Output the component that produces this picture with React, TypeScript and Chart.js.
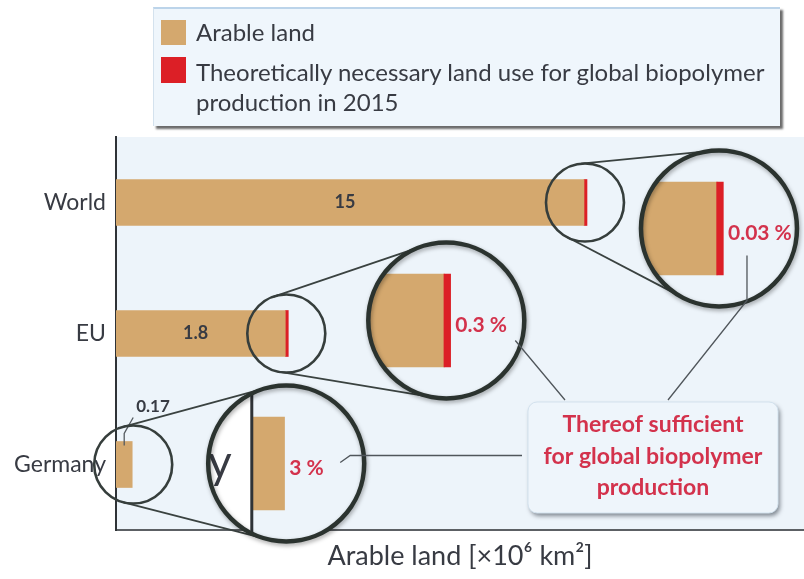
import React, { useEffect, useRef } from 'react';
import { Chart, LinearScale, registerables } from 'chart.js';

// ---- data -------------------------------------------------------------
const regions = ['World', 'EU', 'Germany'];
// arable land, million km²
const arableLand = [15, 1.8, 0.17];
const arableLabels = ['15', '1.8', '0.17'];
// land theoretically needed for global biopolymer production in 2015, million km²
const biopolymerLand: (number | null)[] = [0.0045, 0.0054, null];
const biopolymerShare = ['0.03 %', '0.3 %', '3 %'];
const seriesNames = [
  'Arable land',
  'Theoretically necessary land use for global biopolymer production in 2015',
];
const seriesColors = ['#d4a86e', '#dc1f26'];
const calloutLines = ['Thereof sufficient', 'for global biopolymer', 'production'];
const axisTitle = 'Arable land [×10⁶ km²]';

// ---- styling ----------------------------------------------------------
const FONT = 'Lato, "Open Sans", sans-serif';
const INK = '#383b43';
const RED_TEXT = '#d3324c';
const PLOT_BG = '#edf4fa';
const TICK_SIZE = 23;
const TICK_GAP = 10;

// ---- compressed value axis: keeps very small and very large areas readable
const SC = 0.75;
const SQ = 1.3;
const squash = (v: number) => Math.log1p(Math.pow(Math.max(v, 0) / SC, SQ));
const unsquash = (t: number) => SC * Math.pow(Math.expm1(Math.max(t, 0)), 1 / SQ);

class CompressedScale extends LinearScale {
  static id = 'compressed';
  getPixelForValue(value: any) {
    if (value === null || value === undefined || isNaN(value)) return NaN;
    const a = squash(this.min);
    const b = squash(this.max);
    return this.getPixelForDecimal((squash(value) - a) / (b - a));
  }
  getValueForPixel(pixel: number) {
    const a = squash(this.min);
    const b = squash(this.max);
    return unsquash(a + this.getDecimalForPixel(pixel) * (b - a));
  }
}

Chart.register(...registerables, CompressedScale);

// magnifier geometry
const MAG = 2;
const SMALL_R = 39;
const BIG_R = 78;
const LENS_SHIFT = [
  [134, 26],
  [160, -13],
  [153, -1],
];

function tangents(x1: number, y1: number, r1: number, x2: number, y2: number, r2: number) {
  const dx = x2 - x1;
  const dy = y2 - y1;
  const d = Math.hypot(dx, dy);
  const phi = Math.atan2(dy, dx);
  const alpha = Math.acos((r1 - r2) / d);
  return [phi - alpha, phi + alpha].map((t) => [
    [x1 + r1 * Math.cos(t), y1 + r1 * Math.sin(t)],
    [x2 + r2 * Math.cos(t), y2 + r2 * Math.sin(t)],
  ]);
}

// the plot as it appears under a lens (redrawn with the lens transform applied)
function drawScene(chart: any) {
  const { ctx, chartArea: a } = chart;
  ctx.fillStyle = PLOT_BG;
  ctx.fillRect(a.left, a.top, a.right - a.left, a.bottom - a.top);
  chart.data.datasets.forEach((_: any, d: number) => {
    chart.getDatasetMeta(d).data.forEach((el: any, i: number) => {
      if (d === 1 && biopolymerLand[i] == null) return;
      el.draw(ctx);
    });
  });
  ctx.strokeStyle = '#2f3337';
  ctx.lineWidth = 1.5;
  ctx.beginPath();
  ctx.moveTo(a.left, a.top);
  ctx.lineTo(a.left, a.bottom);
  ctx.stroke();
  const y = chart.scales.y;
  ctx.fillStyle = INK;
  ctx.font = `${TICK_SIZE}px ${FONT}`;
  ctx.textAlign = 'right';
  ctx.textBaseline = 'middle';
  regions.forEach((r, i) => ctx.fillText(r, y.right - TICK_GAP, y.getPixelForValue(i)));
}

const decorations = {
  id: 'lensDecorations',
  beforeDraw(chart: any) {
    const { ctx, chartArea: a } = chart;
    ctx.save();
    ctx.fillStyle = PLOT_BG;
    ctx.fillRect(a.left, a.top, a.right - a.left, a.bottom - a.top);
    ctx.restore();
  },
  afterDraw(chart: any) {
    const { ctx, chartArea: area } = chart;
    const brown = chart.getDatasetMeta(0).data;
    const red = chart.getDatasetMeta(1).data;

    const lenses = regions.map((_, i) => {
      const bar = brown[i];
      const tip = biopolymerLand[i] != null ? red[i].x : bar.x;
      const sx = bar.x + 1;
      const sy = bar.y;
      return { bar, tip, sx, sy, bx: sx + LENS_SHIFT[i][0], by: sy + LENS_SHIFT[i][1] };
    });

    ctx.save();
    // values on the bars
    ctx.fillStyle = INK;
    ctx.font = `bold 18px ${FONT}`;
    ctx.textBaseline = 'middle';
    lenses.forEach((l, i) => {
      const b = l.bar;
      if (b.x - area.left > 60) {
        ctx.textAlign = 'center';
        ctx.fillText(arableLabels[i], (area.left + b.x) / 2 - 5, b.y);
      } else {
        const top = b.y - b.height / 2;
        ctx.textAlign = 'left';
        ctx.font = `bold 17px ${FONT}`;
        ctx.fillText(arableLabels[i], b.x + 4, top - 35);
        ctx.strokeStyle = '#555b60';
        ctx.lineWidth = 1.3;
        ctx.beginPath();
        ctx.moveTo(b.x - 8, top + 4);
        ctx.lineTo(b.x - 8, top - 8);
        ctx.lineTo(b.x + 1, top - 24);
        ctx.stroke();
      }
    });

    // lines joining each lens to its magnified view
    ctx.strokeStyle = '#3a4240';
    ctx.lineWidth = 1.8;
    lenses.forEach((l) => {
      tangents(l.sx, l.sy, SMALL_R, l.bx, l.by, BIG_R).forEach(([p, q]) => {
        ctx.beginPath();
        ctx.moveTo(p[0], p[1]);
        ctx.lineTo(q[0], q[1]);
        ctx.stroke();
      });
    });

    // magnified views
    lenses.forEach((l, i) => {
      ctx.save();
      ctx.beginPath();
      ctx.arc(l.bx, l.by, BIG_R, 0, Math.PI * 2);
      ctx.clip();
      ctx.fillStyle = '#ffffff';
      ctx.fillRect(l.bx - BIG_R, l.by - BIG_R, BIG_R * 2, BIG_R * 2);
      ctx.translate(l.bx, l.by);
      ctx.scale(MAG, MAG);
      ctx.translate(-l.sx, -l.sy);
      drawScene(chart);
      ctx.restore();

      ctx.save();
      ctx.shadowColor = 'rgba(0,0,0,0.35)';
      ctx.shadowBlur = 4;
      ctx.shadowOffsetX = 1;
      ctx.shadowOffsetY = 2;
      ctx.strokeStyle = '#2b332f';
      ctx.lineWidth = 4.5;
      ctx.beginPath();
      ctx.arc(l.bx, l.by, BIG_R, 0, Math.PI * 2);
      ctx.stroke();
      ctx.restore();

      const magTip = l.bx + MAG * (l.tip - l.sx);
      ctx.fillStyle = RED_TEXT;
      ctx.font = `bold 21px ${FONT}`;
      ctx.textAlign = 'left';
      ctx.textBaseline = 'middle';
      ctx.fillText(biopolymerShare[i], magTip + 5, l.by + 5);
    });

    // small lenses over the bar ends
    ctx.strokeStyle = '#363e3c';
    ctx.lineWidth = 2.6;
    lenses.forEach((l) => {
      ctx.beginPath();
      ctx.arc(l.sx, l.sy, SMALL_R, 0, Math.PI * 2);
      ctx.stroke();
    });

    // callout box
    const bw = 250;
    const bh = 111;
    const bxL = area.right - 276;
    const byT = area.bottom - 128;

    ctx.strokeStyle = '#50565b';
    ctx.lineWidth = 1.3;
    const [w, e, g] = lenses;
    ctx.beginPath();
    ctx.moveTo(e.bx + 69, e.by + 20);
    ctx.lineTo(bxL + 37, byT - 2);
    ctx.moveTo(w.bx + 28, w.by + 27);
    ctx.lineTo(w.bx + 28, w.by + 72);
    ctx.lineTo(bxL + 140, byT - 2);
    ctx.moveTo(g.bx + 54, g.by - 1);
    ctx.lineTo(g.bx + 64, g.by - 8);
    ctx.lineTo(bxL - 6, g.by - 8);
    ctx.stroke();

    ctx.save();
    ctx.shadowColor = 'rgba(40,50,60,0.55)';
    ctx.shadowBlur = 4;
    ctx.shadowOffsetX = 2;
    ctx.shadowOffsetY = 3;
    ctx.fillStyle = '#eef5fb';
    ctx.beginPath();
    ctx.roundRect(bxL, byT, bw, bh, 9);
    ctx.fill();
    ctx.restore();
    ctx.strokeStyle = '#d3e2ee';
    ctx.lineWidth = 1;
    ctx.beginPath();
    ctx.roundRect(bxL, byT, bw, bh, 9);
    ctx.stroke();

    ctx.fillStyle = RED_TEXT;
    ctx.font = `bold 23px ${FONT}`;
    ctx.textAlign = 'center';
    ctx.textBaseline = 'middle';
    calloutLines.forEach((t, k) => ctx.fillText(t, bxL + bw / 2, byT + 23 + k * 31.5));
    ctx.restore();
  },
};

export default function App() {
  const canvasRef = useRef<HTMLCanvasElement>(null);

  useEffect(() => {
    const chart = new Chart(canvasRef.current as HTMLCanvasElement, {
      type: 'bar',
      data: {
        labels: regions,
        datasets: [
          {
            label: seriesNames[0],
            data: arableLand,
            backgroundColor: seriesColors[0],
            barThickness: 46,
            stack: 'land',
          },
          {
            label: seriesNames[1],
            data: biopolymerLand,
            backgroundColor: seriesColors[1],
            barThickness: 46,
            minBarLength: 3,
            stack: 'land',
          },
        ],
      },
      options: {
        indexAxis: 'y',
        animation: false,
        responsive: false,
        devicePixelRatio: 1,
        layout: { padding: { top: 137, left: 0, right: 0, bottom: 0 } },
        plugins: { legend: { display: false }, tooltip: { enabled: false } },
        scales: {
          x: {
            type: 'compressed' as any,
            min: 0,
            max: 62.6,
            stacked: true,
            grid: { display: false },
            ticks: { display: false },
            border: { display: true, color: '#5c6064', width: 2 },
            title: {
              display: true,
              text: axisTitle,
              color: INK,
              font: { family: FONT, size: 27 },
              padding: { top: 0, bottom: 7 },
            },
            afterFit: (s: any) => {
              s.height = 49;
            },
          },
          y: {
            stacked: true,
            grid: { display: false, drawTicks: false },
            border: { display: true, color: '#2f3337', width: 2 },
            ticks: { color: INK, font: { family: FONT, size: TICK_SIZE }, padding: TICK_GAP },
            afterFit: (s: any) => {
              s.width = 116;
            },
          },
        },
      } as any,
      plugins: [decorations],
    });
    return () => chart.destroy();
  }, []);

  return (
    <div
      style={{
        position: 'absolute',
        left: 0,
        top: 0,
        width: 804,
        height: 579,
        background: '#fff',
        overflow: 'hidden',
        fontFamily: FONT,
      }}
    >
      <canvas
        ref={canvasRef}
        width={804}
        height={579}
        style={{ position: 'absolute', left: 0, top: 0, width: 804, height: 579 }}
      />
      <div
        style={{
          position: 'absolute',
          left: 153,
          top: 7,
          width: 627,
          height: 119,
          boxSizing: 'border-box',
          background: '#eff6fc',
          borderTop: '2px solid #bcd4ea',
          borderLeft: '1px solid #d4e2ee',
          boxShadow: '3px 3px 2px rgba(70,70,70,0.8)',
        }}
      >
        {seriesNames.map((name, i) => (
          <div
            key={name}
            style={{
              position: 'absolute',
              left: 7,
              top: i === 0 ? 8 : 48,
              display: 'flex',
              alignItems: 'flex-start',
            }}
          >
            <div
              style={{
                width: 25,
                height: i === 0 ? 25 : 26,
                marginTop: i === 0 ? 3 : 0,
                background: seriesColors[i],
                flex: 'none',
              }}
            />
            <div
              style={{
                marginLeft: 10,
                width: 578,
                fontSize: 24,
                lineHeight: '30px',
                color: INK,
              }}
            >
              {name}
            </div>
          </div>
        ))}
      </div>
    </div>
  );
}
